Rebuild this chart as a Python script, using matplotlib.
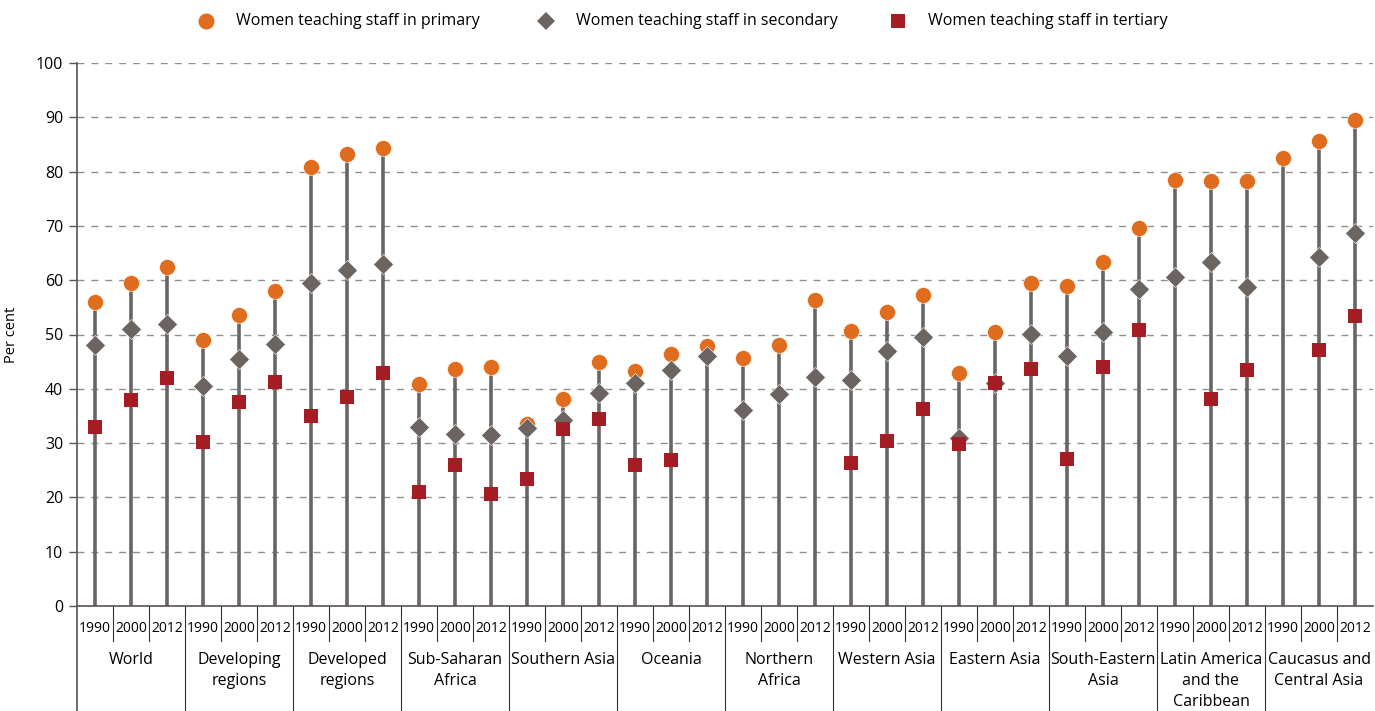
import numpy as np
import matplotlib
matplotlib.use("Agg")
import matplotlib.pyplot as plt
from matplotlib.lines import Line2D
import matplotlib.transforms as mtransforms

plt.rcParams['font.family'] = ['Open Sans', 'DejaVu Sans']

regions = ["World", "Developing\nregions", "Developed\nregions", "Sub-Saharan\nAfrica",
           "Southern Asia", "Oceania", "Northern\nAfrica", "Western Asia", "Eastern Asia",
           "South-Eastern\nAsia", "Latin America\nand the\nCaribbean", "Caucasus and\nCentral Asia"]
years = ["1990", "2000", "2012"]
N = np.nan
primary = [56.0, 59.5, 62.5, 49.0, 53.5, 58.0, 80.8, 83.3, 84.3, 40.8, 43.6, 44.0,
           33.5, 38.2, 44.9, 43.2, 46.4, 47.9, 45.7, 48.1, 56.3, 50.7, 54.2, 57.2,
           42.9, 50.5, 59.4, 58.9, 63.4, 69.6, 78.4, 78.2, 78.2, 82.5, 85.6, 89.5]
secondary = [48.0, 51.0, 52.0, 40.5, 45.5, 48.3, 59.5, 61.8, 63.0, 33.0, 31.7, 31.5,
             32.8, 34.2, 39.2, 41.0, 43.5, 46.0, 36.1, 39.0, 42.1, 41.7, 46.9, 49.6,
             31.0, 41.0, 50.1, 46.1, 50.5, 58.4, 60.6, 63.3, 58.7, N, 64.2, 68.7]
tertiary = [33.0, 38.0, 42.0, 30.2, 37.5, 41.2, 35.0, 38.5, 43.0, 21.0, 26.0, 20.6,
            23.4, 32.6, 34.5, 25.9, 26.8, N, N, N, N, 26.3, 30.3, 36.2,
            29.8, 41.0, 43.6, 27.0, 44.0, 50.8, N, 38.2, 43.4, N, 47.1, 53.4]
series_labels = ["Women teaching staff in primary", "Women teaching staff in secondary",
                 "Women teaching staff in tertiary"]

c_orange = "#E06C1E"
c_grey = "#6B6461"
c_red = "#A51C24"

W, H = 1375, 711
fig = plt.figure(figsize=(W / 100, H / 100), dpi=100)
ax = fig.add_axes([77 / W, (711 - 606) / H, (1373 - 77) / W, (606 - 63) / H])

x = np.arange(len(primary))
top = np.nanmax(np.vstack([primary, secondary, tertiary]), axis=0)
ax.vlines(x, 0, top, color=c_grey, lw=2.6, zorder=2)
ax.plot(x, primary, 'o', color=c_orange, ms=11.5, mec='white', mew=0.4, zorder=3, linestyle='none')
ax.plot(x, secondary, 'D', color=c_grey, ms=10.5, mec='white', mew=0.4, zorder=4, linestyle='none')
ax.plot(x, tertiary, 's', color=c_red, ms=10, mew=0, zorder=5, linestyle='none')

ax.set_xlim(-0.5, len(primary) - 0.5)
ax.set_ylim(0, 100)
ax.set_yticks(np.arange(0, 101, 10))
ax.yaxis.grid(True, linestyle=(0, (5, 5)), color="#8f8f8f", lw=1.0)
ax.set_axisbelow(True)
for s in ["top", "right"]:
    ax.spines[s].set_visible(False)
ax.spines["left"].set_color("#5a5452")
ax.spines["bottom"].set_color("#5a5452")
ax.spines["left"].set_linewidth(1.2)
ax.spines["bottom"].set_linewidth(1.2)
ax.tick_params(axis='y', length=6, width=1.0, color="#5a5452", labelsize=11.5, pad=4)
ax.set_xticks([])
ax.set_ylabel("Per cent", fontsize=10.5, labelpad=10)
ax.yaxis.set_label_coords(-0.045, 0.5)

trans = mtransforms.blended_transform_factory(ax.transData, ax.transAxes)
axh = 606 - 63
y_year = -(629 - 606) / axh
y_sep = -(641 - 606) / axh
y_bot = -(711 - 606) / axh
for i in range(len(primary)):
    ax.text(i, y_year, years[i % 3], transform=trans, ha='center', va='center', fontsize=10)
    if i % 3 != 2:
        ax.plot([i + 0.5, i + 0.5], [0, y_sep], transform=trans, color="#333333", lw=0.8, clip_on=False)
for k, r in enumerate(regions):
    ax.text(3 * k + 1, -(652 - 606) / axh, r, transform=trans, ha='center', va='top',
            fontsize=11.5, linespacing=1.42)
    if k > 0:
        ax.plot([3 * k - 0.5] * 2, [0, y_bot], transform=trans, color="#333333", lw=0.8, clip_on=False)
ax.plot([-0.5, -0.5], [0, y_bot], transform=trans, color="#5a5452", lw=1.2, clip_on=False)

# legend
leg_y = 1 - 21 / H
items = [(206, 236, 'o', c_orange, 11.5), (546, 576, 'D', c_grey, 9), (898, 928, 's', c_red, 10)]
for (mx, tx, m, c, ms), lab in zip(items, series_labels):
    fig.add_artist(Line2D([mx / W], [leg_y], marker=m, color=c, ms=ms, mew=0, linestyle='none',
                          transform=fig.transFigure))
    fig.text(tx / W, leg_y, lab, ha='left', va='center', fontsize=11.5)

fig.savefig("out.png", dpi=100)
